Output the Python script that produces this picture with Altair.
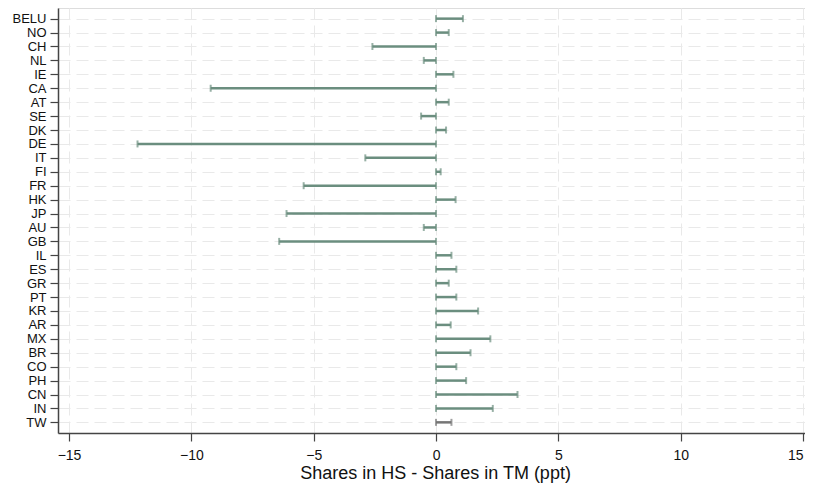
import altair as alt
import pandas as pd

countries = ["BELU", "NO", "CH", "NL", "IE", "CA", "AT", "SE", "DK", "DE", "IT", "FI",
             "FR", "HK", "JP", "AU", "GB", "IL", "ES", "GR", "PT", "KR", "AR", "MX",
             "BR", "CO", "PH", "CN", "IN", "TW"]
values = [1.10, 0.52, -2.60, -0.50, 0.71, -9.21, 0.52, -0.61, 0.41, -12.20, -2.89, 0.19,
          -5.41, 0.80, -6.11, -0.50, -6.41, 0.63, 0.83, 0.52, 0.83, 1.72, 0.60, 2.22,
          1.41, 0.83, 1.23, 3.33, 2.32, 0.63]
groups = ["main"] * (len(countries) - 1) + ["last"]

df = pd.DataFrame({"country": countries, "value": values, "zero": [0.0] * len(countries), "grp": groups})

x_ticks = [-15, -10, -5, 0, 5, 10, 15]

color_scale = alt.Scale(domain=["main", "last"], range=["#6b8e7f", "#767676"])

x_scale = alt.Scale(domain=[-15.45, 15.08], nice=False, zero=False)
y_scale = alt.Scale(type="point", padding=0.765)

y_enc = alt.Y("country:N", sort=countries, scale=y_scale,
              axis=alt.Axis(title=None, grid=True, gridDash=[12, 6], gridColor="#e9e9e9",
                            gridWidth=1, labelFontSize=13, labelColor="#111111",
                            labelFont="Liberation Sans", tickSize=8, tickColor="#444444",
                            tickWidth=1.2, domainColor="#444444", domainWidth=1.5,
                            labelPadding=4))

x_axis = alt.Axis(values=x_ticks, title="Shares in HS - Shares in TM (ppt)", grid=True,
                  gridDash=[12, 6], gridColor="#e9e9e9", gridWidth=1,
                  labelFontSize=14, labelColor="#111111", labelFont="Liberation Sans",
                  labelAlign={"expr": "datum.value == 15 ? 'right' : 'center'"},
                  titleFont="Liberation Sans", titleFontSize=18, titleFontWeight="normal",
                  titleColor="#111111", titlePadding=2, titleX=377,
                  tickSize=8, tickColor="#444444", tickWidth=1.2,
                  domainColor="#444444", domainWidth=1.5, labelPadding=7)

base = alt.Chart(df)

bars = base.mark_rule(strokeWidth=2.5).encode(
    x=alt.X("zero:Q", scale=x_scale, axis=x_axis),
    x2="value:Q",
    y=y_enc,
    color=alt.Color("grp:N", scale=color_scale, legend=None),
)

cap0 = base.mark_tick(size=7, thickness=2).encode(
    x=alt.X("zero:Q", scale=x_scale),
    y=alt.Y("country:N", sort=countries, scale=y_scale),
    color=alt.Color("grp:N", scale=color_scale, legend=None),
)

cap1 = base.mark_tick(size=7, thickness=2).encode(
    x=alt.X("value:Q", scale=x_scale),
    y=alt.Y("country:N", sort=countries, scale=y_scale),
    color=alt.Color("grp:N", scale=color_scale, legend=None),
)

chart = alt.layer(bars, cap0, cap1).properties(
    width=747, height=425,
    autosize=alt.AutoSizeParams(type="none"),
    padding={"left": 50, "top": 0, "right": 0, "bottom": 51},
).configure_view(stroke=None).configure(background="white")

chart.save("out.html", embed_options={"renderer": "svg", "actions": False})
